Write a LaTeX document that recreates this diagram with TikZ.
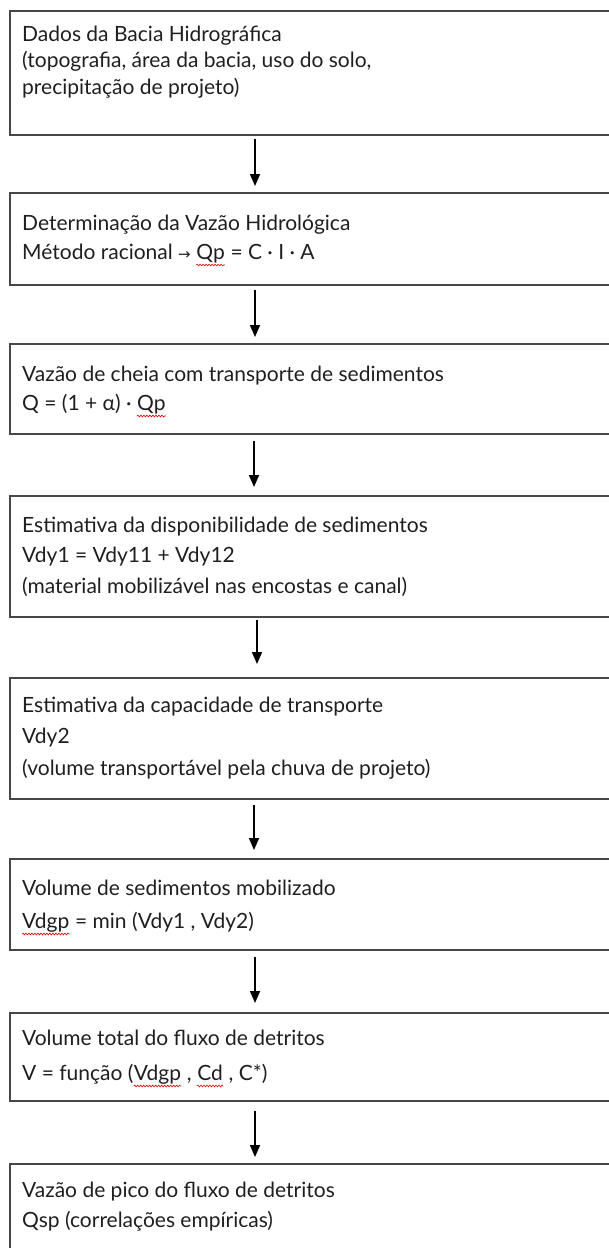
\documentclass[tikz,border=0pt]{standalone}
\usepackage{fontspec}
\setmainfont{Lato}
\newfontfamily\symf{DejaVu Sans}
\usetikzlibrary{arrows.meta,calc,decorations.pathmorphing}
\tikzset{
  box/.style={draw=black!72, line width=1.5pt, anchor=north west, inner sep=0pt, minimum width=640pt},
  txt/.style={anchor=base west, inner sep=0pt, font=\fontsize{21}{24}\selectfont, text=black!88},
  arr/.style={draw=black, line width=1.8pt, -{Triangle[width=10pt,length=12pt]}},
  wavy/.style={draw=red!85!black, line width=0.6pt, decorate, decoration={snake, amplitude=0.9pt, segment length=3pt}}
}
\begin{document}
\begin{tikzpicture}[x=1pt,y=-1pt]
\useasboundingbox (0,0) rectangle (609,1248);
% boxes
\node[box, minimum height=124pt] (b1) at (9,10) {};
\node[box, minimum height=92pt]  (b2) at (9,192) {};
\node[box, minimum height=90pt]  (b3) at (9,343) {};
\node[box, minimum height=121pt] (b4) at (9,495) {};
\node[box, minimum height=121pt] (b5) at (9,677) {};
\node[box, minimum height=91pt]  (b6) at (9,858) {};
\node[box, minimum height=88pt]  (b7) at (9,1012) {};
\node[box, minimum height=120pt] (b8) at (9,1163) {};
% texts
\node[txt] (t1a) at (22,41) {Dados da Bacia Hidrográfica};
\node[txt] (t1b) at (22,67.5) {(topografia, área da bacia, uso do solo,};
\node[txt] (t1c) at (22,94) {precipitação de projeto)};

\node[txt] (t2a) at (22,230) {Determinação da Vazão Hidrológica};
\node[txt] (t2b) at (22,259) {Método racional {\symf\fontsize{15}{18}\selectfont →}\kern0.25em};
\node[txt] (t2q) at (t2b.base east) {Qp};
\node[txt] (t2c) at (t2q.base east) {\ = C · I · A};

\node[txt] (t3a) at (22,381) {Vazão de cheia com transporte de sedimentos};
\node[txt] (t3b) at (22,410) {Q = (1 + α) ·\kern0.25em};
\node[txt] (t3q) at (t3b.base east) {Qp};

\node[txt] (t4a) at (22,532) {Estimativa da disponibilidade de sedimentos};
\node[txt] (t4b) at (22,562) {Vdy1 = Vdy11 + Vdy12};
\node[txt] (t4c) at (22,593) {(material mobilizável nas encostas e canal)};

\node[txt] (t5a) at (22,712) {Estimativa da capacidade de transporte};
\node[txt] (t5b) at (22,743) {Vdy2};
\node[txt] (t5c) at (22,775) {(volume transportável pela chuva de projeto)};

\node[txt] (t6a) at (22,895) {Volume de sedimentos mobilizado};
\node[txt] (t6q) at (22,928) {Vdgp};
\node[txt] (t6b) at (t6q.base east) {\ = min (Vdy1 , Vdy2)};

\node[txt] (t7a) at (22,1045) {Volume total do fluxo de detritos};
\node[txt] (t7b) at (22,1080) {V = função (};
\node[txt] (t7q) at (t7b.base east) {Vdgp};
\node[txt] (t7c) at (t7q.base east) {\ ,\kern0.25em};
\node[txt] (t7d) at (t7c.base east) {Cd};
\node[txt] (t7e) at (t7d.base east) {\ , C*)};

\node[txt] (t8a) at (22,1197) {Vazão de pico do fluxo de detritos};
\node[txt] (t8b) at (22,1227) {Qsp (correlações empíricas)};

% spell-check squiggles
\foreach \w in {t2q,t3q,t6q,t7q,t7d}{
  \draw[wavy] ($(\w.base west)+(0,6)$) -- ($(\w.base east)+(0,6)$);
}
% arrows
\draw[arr] ($(b1.south west)+(246,3)$) -- ($(b2.north west)+(246,-6)$);
\draw[arr] ($(b2.south west)+(246,4)$) -- ($(b3.north west)+(246,-6)$);
\draw[arr] ($(b3.south west)+(245,6)$) -- ($(b4.north west)+(245,-8)$);
\draw[arr] ($(b4.south west)+(248,2)$) -- ($(b5.north west)+(248,-13)$);
\draw[arr] ($(b5.south west)+(245,5)$) -- ($(b6.north west)+(245,-8)$);
\draw[arr] ($(b6.south west)+(246,6)$) -- ($(b7.north west)+(246,-9)$);
\draw[arr] ($(b7.south west)+(246,9)$) -- ($(b8.north west)+(246,-6)$);
\end{tikzpicture}
\end{document}
